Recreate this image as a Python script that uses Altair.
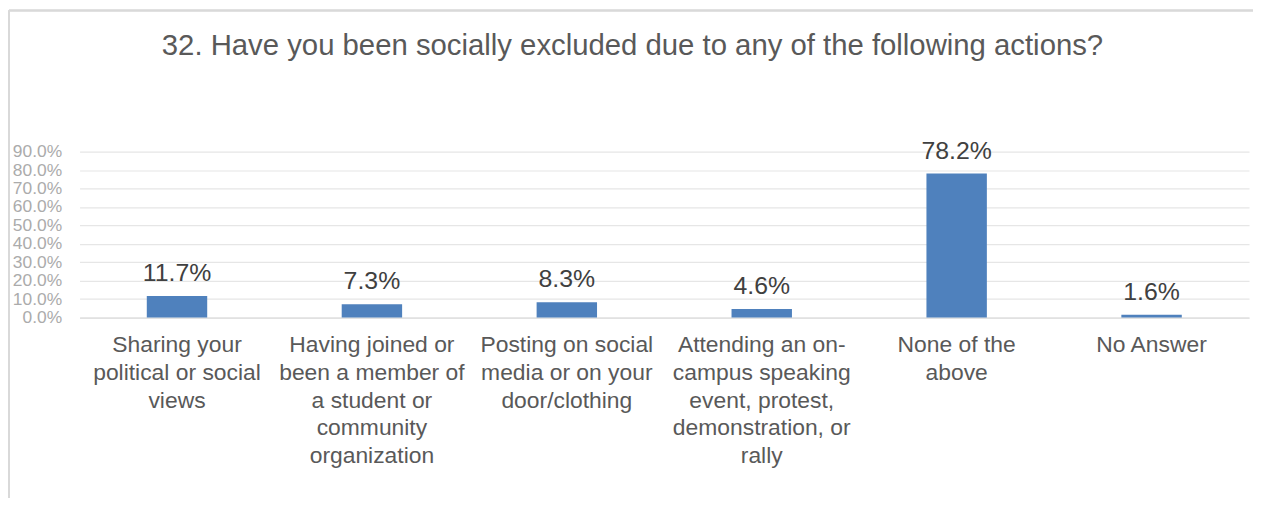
import altair as alt
import pandas as pd

categories = [
    "Sharing your|political or social|views",
    "Having joined or|been a member of|a student or|community|organization",
    "Posting on social|media or on your|door/clothing",
    "Attending an on-|campus speaking|event, protest,|demonstration, or|rally",
    "None of the|above",
    "No Answer",
]
values = [0.117, 0.073, 0.083, 0.046, 0.782, 0.016]
value_labels = ["11.7%", "7.3%", "8.3%", "4.6%", "78.2%", "1.6%"]
y_ticks = [0.0, 0.1, 0.2, 0.3, 0.4, 0.5, 0.6, 0.7, 0.8, 0.9]

df = pd.DataFrame({"cat": categories, "val": values, "lab": value_labels})

FONT = "Liberation Sans"

x_enc = alt.X(
    "cat:N",
    sort=categories,
    scale=alt.Scale(paddingInner=0.69, paddingOuter=0.345),
    axis=alt.Axis(
        title=None,
        labelExpr="split(datum.label, '|')",
        labelAngle=0,
        labelFont=FONT,
        labelFontSize=23,
        labelLineHeight=28,
        labelColor="#595959",
        labelBaseline="top",
        labelPadding=16,
        ticks=False,
        domain=True,
        domainColor="#D9D9D9",
        grid=False,
        labelLimit=400,
        labelOverlap=False,
    ),
)
y_enc = alt.Y(
    "val:Q",
    scale=alt.Scale(domain=[0, 0.9], nice=False),
    axis=alt.Axis(
        title=None,
        values=y_ticks,
        format=".1%",
        labelFont=FONT,
        labelFontSize=17.5,
        labelColor="#ABABAB",
        labelPadding=18,
        labelOverlap=False,
        ticks=False,
        domain=False,
        grid=True,
        gridColor="#E6E6E6",
        gridWidth=1.2,
    ),
)

base = alt.Chart(df).encode(x=x_enc, y=y_enc)
bars = base.mark_bar(color="#4F81BD")
texts = base.mark_text(
    font=FONT, fontSize=25, color="#404040", baseline="alphabetic", dy=-15
).encode(text="lab:N")

border_left = alt.Chart(df).mark_rule(color="#D9D9D9", strokeWidth=1.5, clip=False).encode(
    x=alt.value(-71), y=alt.value(-142), y2=alt.value(350)
)
border_top = alt.Chart(df).mark_rule(color="#D9D9D9", strokeWidth=1.5, clip=False).encode(
    x=alt.value(-71), x2=alt.value(1200), y=alt.value(-142)
)

chart = (
    alt.layer(bars, texts, border_left, border_top)
    .properties(
        width=1177,
        height=167,
        padding={"left": 72, "top": 143, "right": 4, "bottom": 180},
        autosize=alt.AutoSizeParams(type="none"),
        title=alt.TitleParams(
            "32. Have you been socially excluded due to any of the following actions?",
            font=FONT,
            fontSize=29.5,
            fontWeight="normal",
            color="#595959",
            anchor="middle",
            dx=-32,
            offset=-52,
        ),
    )
    .configure_view(stroke=None)
)

chart.save("out.html", embed_options={"renderer": "svg", "actions": False})
